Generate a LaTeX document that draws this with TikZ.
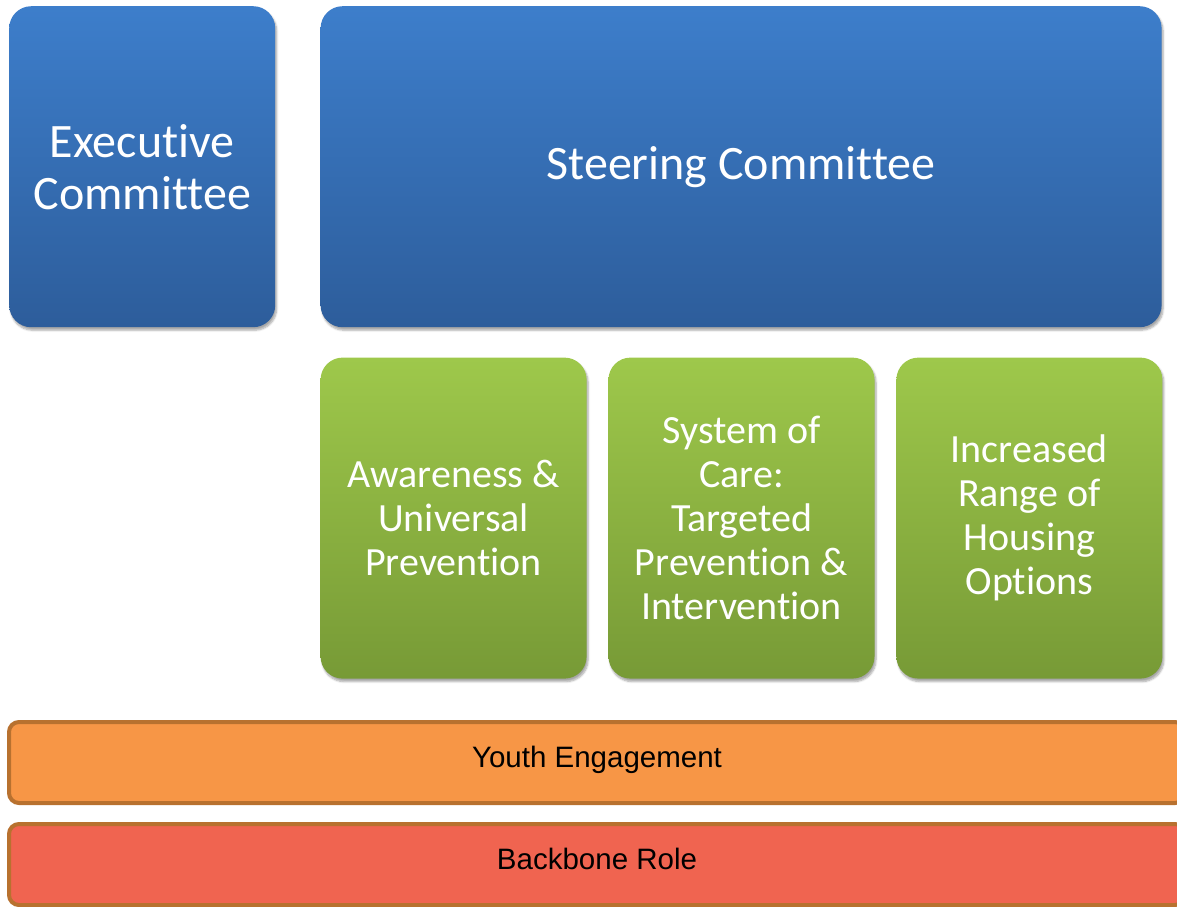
\documentclass[tikz,border=0pt]{standalone}
\usepackage{fontspec}
\setmainfont{Carlito}[Ligatures=NoCommon]
\newfontfamily\barfont{Liberation Sans}
\usetikzlibrary{positioning,shadows.blur}
\definecolor{bluetop}{HTML}{3D7ECB}
\definecolor{bluebot}{HTML}{2D5D9B}
\definecolor{greentop}{HTML}{9EC84B}
\definecolor{greenbot}{HTML}{779A36}
\definecolor{orangefill}{HTML}{F79646}
\definecolor{redfill}{HTML}{F06450}
\definecolor{barline}{HTML}{B8712F}

\begin{document}
\begin{tikzpicture}[
  x=1pt,y=1pt,
  shade/.style={blur shadow={shadow xshift=1.5pt,shadow yshift=-3pt,shadow blur steps=6,shadow opacity=35}},
  board/.style={shade,rounded corners=22pt,top color=bluetop,bottom color=bluebot,text=white,
    minimum height=321pt,align=center,font=\fontsize{48}{52}\selectfont},
  group/.style={shade,rounded corners=22pt,top color=greentop,bottom color=greenbot,text=white,
    minimum width=266pt,minimum height=321pt,align=center,font=\fontsize{40}{44}\selectfont},
  bar/.style={draw=barline,line width=4pt,rounded corners=10pt,minimum width=1176pt,minimum height=81pt,
    font=\barfont\fontsize{29.5}{34}\selectfont,text depth=12pt},
  node distance=30pt and 21.5pt]
  \useasboundingbox (0,0) rectangle (1177,-906);

  % committees
  \node[board,minimum width=266pt,anchor=north west] (exec) at (9,-6) {Executive\\Committee};
  \node[board,minimum width=841pt,right=45pt of exec] (steer) {Steering Committee};

  % working groups
  \node[group,below=30pt of steer.south west,anchor=north west] (aware) {Awareness \&\\Universal\\Prevention};
  \node[group,right=of aware] (care) {System of\\Care:\\Targeted\\Prevention \&\\Intervention};
  \node[group,right=of care] (housing) {Increased\\Range of\\Housing\\Options};

  % cross-cutting bars
  \node[bar,fill=orangefill] (youth) at (597,-762.5) {Youth Engagement};
  \node[bar,fill=redfill] (backbone) at (597,-864.5) {Backbone Role};
\end{tikzpicture}
\end{document}
